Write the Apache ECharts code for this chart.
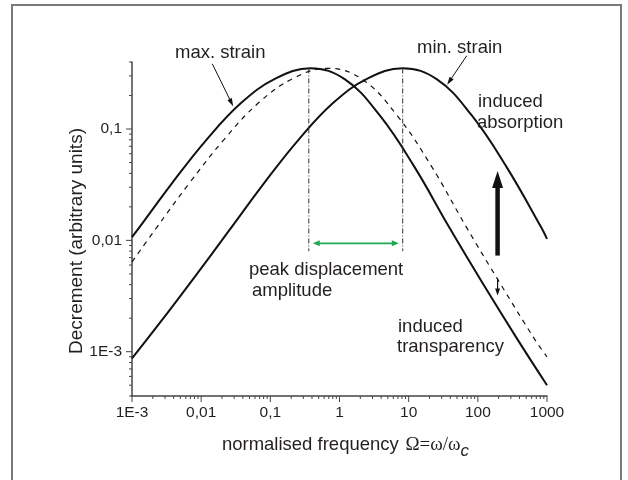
<!DOCTYPE html>
<html>
<head>
<meta charset="utf-8">
<style>html,body{margin:0;padding:0;background:#fff;}#chart{width:628px;height:480px;}</style>
<script src="https://cdn.jsdelivr.net/npm/echarts@6/dist/echarts.min.js"></script>
</head>
<body>
<div id="chart"></div>
<script>
// ---------- data ----------
const maxStrainX = [0.001, 0.0012, 0.0038, 0.012, 0.038, 0.12, 0.38, 1.2, 3.8, 12, 38, 120, 380, 1000];
const maxStrainY = [0.0107, 0.0124, 0.0327, 0.0804, 0.172, 0.285, 0.351, 0.279, 0.133, 0.0462, 0.0133, 0.00403, 0.00127, 0.0005];

const midStrainX = [0.001, 0.00214, 0.00676, 0.0214, 0.0676, 0.214, 0.676, 2.14, 6.76, 21.4, 67.6, 214, 676, 1000];
const midStrainY = [0.0064, 0.0124, 0.0327, 0.0804, 0.172, 0.285, 0.351, 0.279, 0.133, 0.0462, 0.0133, 0.00403, 0.00127, 0.0009];

const minStrainX = [0.001, 0.00257, 0.00813, 0.0257, 0.0813, 0.257, 0.813, 2.57, 8.13, 25.7, 81.3, 257, 813, 1000];
const minStrainY = [0.00087, 0.00184, 0.00473, 0.0124, 0.0327, 0.0804, 0.172, 0.285, 0.351, 0.279, 0.133, 0.0462, 0.0133, 0.0103];

const xTickValues = [0.001, 0.01, 0.1, 1, 10, 100, 1000];
const xTickLabels = ['1E-3', '0,01', '0,1', '1', '10', '100', '1000'];
const yTickValues = [0.001, 0.01, 0.1];
const yTickLabels = ['1E-3', '0,01', '0,1'];
const xMinorTicks = [0.002,0.003,0.004,0.005,0.006,0.007,0.008,0.009,
  0.02,0.03,0.04,0.05,0.06,0.07,0.08,0.09,
  0.2,0.3,0.4,0.5,0.6,0.7,0.8,0.9,
  2,3,4,5,6,7,8,9, 20,30,40,50,60,70,80,90, 200,300,400,500,600,700,800,900];
const yMinorTicks = [0.0004,0.0005,0.0006,0.0007,0.0008,0.0009,
  0.002,0.003,0.004,0.005,0.006,0.007,0.008,0.009,
  0.02,0.03,0.04,0.05,0.06,0.07,0.08,0.09,
  0.2,0.3,0.4];
const xRange = [0.001, 1000];
const yRange = [0.0004, 0.4];

// annotation marks: [x1, y1, x2, y2] in data units
const peakLines = [[0.36, 0.35, 0.36, 0.008], [8.2, 0.35, 8.2, 0.008]];
const displacementArrow = [[0.41, 0.0094, 7.2, 0.0094]];
const absorptionArrow = [[193, 0.0073, 193, 0.042]];
const transparencyArrow = [[193, 0.00455, 193, 0.0032]];
const pointerArrows = [[0.0145, 0.385, 0.029, 0.16], [69, 0.455, 36, 0.25]];

const annotationTexts = ['max. strain', 'min. strain', 'induced', 'absorption', 'peak displacement', 'amplitude', 'induced', 'transparency'];

// ---------- rendering ----------
const INK = '#231f20';
const AXIS = '#444444';
const SANS = 'Liberation Sans, Arial, sans-serif';

function pairs(xs, ys) { return xs.map((x, i) => [x, ys[i]]); }

function labelFor(values, labels) {
  return function (v) {
    for (let i = 0; i < values.length; i++) {
      if (Math.abs(Math.log10(v) - Math.log10(values[i])) < 1e-6) return labels[i];
    }
    return '';
  };
}

function arrowGroup(p1, p2, headLen, headHalf, lw, color, both) {
  const dx = p2[0] - p1[0], dy = p2[1] - p1[1];
  const len = Math.hypot(dx, dy) || 1;
  const ux = dx / len, uy = dy / len, nx = -uy, ny = ux;
  const head = (t, sx, sy) => ({
    type: 'polygon',
    shape: { points: [[t[0], t[1]],
      [t[0] - sx * headLen + nx * headHalf, t[1] - sy * headLen + ny * headHalf],
      [t[0] - sx * headLen - nx * headHalf, t[1] - sy * headLen - ny * headHalf]] },
    style: { fill: color, stroke: null }
  });
  const s = both ? [p1[0] + ux * headLen * 0.8, p1[1] + uy * headLen * 0.8] : p1;
  const e = [p2[0] - ux * headLen * 0.8, p2[1] - uy * headLen * 0.8];
  const children = [{ type: 'line', shape: { x1: s[0], y1: s[1], x2: e[0], y2: e[1] }, style: { stroke: color, lineWidth: lw, fill: null } }, head(p2, ux, uy)];
  if (both) children.push(head(p1, -ux, -uy));
  return { type: 'group', children };
}

function segSeries(data, build) {
  return {
    type: 'custom', silent: true, clip: false, z: 4,
    encode: { x: [0, 2], y: [1, 3] },
    data: data,
    renderItem: function (params, api) {
      const p1 = api.coord([api.value(0), api.value(1)]);
      const p2 = api.coord([api.value(2), api.value(3)]);
      return build(p1, p2);
    }
  };
}

function tickSeries(values, axis, len) {
  return {
    type: 'custom', silent: true, clip: false, z: 5,
    data: values.map(v => axis === 'x' ? [v, yRange[0]] : [xRange[0], v]),
    renderItem: function (params, api) {
      const p = api.coord([api.value(0), api.value(1)]);
      const shape = axis === 'x'
        ? { x1: p[0], y1: p[1], x2: p[0], y2: p[1] + len }
        : { x1: p[0] - len, y1: p[1], x2: p[0], y2: p[1] };
      return { type: 'line', shape: shape, style: { stroke: AXIS, lineWidth: 1 } };
    }
  };
}

const chart = echarts.init(document.getElementById('chart'), null, { renderer: 'canvas' });

const textPos = [[175, 53], [417, 48], [478, 102], [477, 123], [249, 270], [252, 291], [398, 327], [397, 347]];

const option = {
  backgroundColor: '#ffffff',
  animation: false,
  grid: { left: 132, right: 81, top: 62, bottom: 84, containLabel: false, outerBoundsMode: 'none' },
  xAxis: {
    type: 'log', logBase: 10, min: xRange[0], max: xRange[1],
    name: '{t|normalised frequency}  {s|\u03A9=\u03C9/\u03C9}{c|c}',
    nameLocation: 'middle', nameGap: 34,
    nameTextStyle: {
      padding: [0, 0, 0, 12],
      rich: {
        t: { fontFamily: SANS, fontSize: 18.5, color: INK },
        s: { fontFamily: 'Liberation Serif, DejaVu Serif, serif', fontSize: 19, color: INK },
        c: { fontFamily: SANS, fontStyle: 'italic', fontSize: 17, color: INK, verticalAlign: 'bottom', padding: [13, 0, 0, 0] }
      }
    },
    axisLine: { show: true, lineStyle: { color: AXIS, width: 1.5 } },
    axisTick: { show: false },
    minorTick: { show: false },
    splitLine: { show: false },
    axisLabel: { formatter: labelFor(xTickValues, xTickLabels), fontFamily: SANS, fontSize: 15.5, color: INK, margin: 9, showMinLabel: true, showMaxLabel: true }
  },
  yAxis: {
    type: 'log', logBase: 10, min: yRange[0], max: yRange[1],
    name: 'Decrement (arbitrary units)',
    nameLocation: 'middle', nameGap: 46, nameMoveOverlap: false,
    nameTextStyle: { fontFamily: SANS, fontSize: 19, color: INK, padding: [0, 24, 0, 0] },
    axisLine: { show: true, lineStyle: { color: AXIS, width: 1.5 } },
    axisTick: { show: false },
    minorTick: { show: false },
    splitLine: { show: false },
    axisLabel: { formatter: labelFor(yTickValues, yTickLabels), fontFamily: SANS, fontSize: 15.5, color: INK, margin: 10, showMinLabel: false, showMaxLabel: false }
  },
  graphic: [
    { type: 'rect', silent: true, z: 100, shape: { x: 12, y: 5, width: 609, height: 520 }, style: { fill: null, stroke: '#7a7a7a', lineWidth: 2 } }
  ].concat(annotationTexts.map((t, i) => ({
    type: 'text', silent: true, z: 100,
    style: { x: textPos[i][0], y: textPos[i][1], text: t, font: '18.5px ' + SANS, fill: INK, textAlign: 'left', textVerticalAlign: 'middle' }
  }))),
  series: [
    { name: 'max. strain', type: 'line', data: pairs(maxStrainX, maxStrainY), smooth: 0.4, showSymbol: false, lineStyle: { color: '#111', width: 2 }, z: 3 },
    { name: 'intermediate', type: 'line', data: pairs(midStrainX, midStrainY), smooth: 0.4, showSymbol: false, lineStyle: { color: '#111', width: 1.2, type: [5, 5] }, z: 3 },
    { name: 'min. strain', type: 'line', data: pairs(minStrainX, minStrainY), smooth: 0.4, showSymbol: false, lineStyle: { color: '#111', width: 2 }, z: 3 },
    tickSeries(xTickValues, 'x', 6),
    tickSeries(xMinorTicks, 'x', 3),
    tickSeries(yTickValues, 'y', 6),
    tickSeries(yMinorTicks, 'y', 3),
    segSeries(peakLines, (p1, p2) => ({ type: 'line', shape: { x1: p1[0], y1: p1[1], x2: p2[0], y2: p2[1] }, style: { stroke: '#333', lineWidth: 1, lineDash: [5, 2, 1, 2] } })),
    segSeries(displacementArrow, (p1, p2) => arrowGroup(p1, p2, 7, 3, 1.6, '#21a853', true)),
    segSeries(absorptionArrow, (p1, p2) => arrowGroup(p1, p2, 17, 5.5, 4.5, '#111', false)),
    segSeries(transparencyArrow, (p1, p2) => arrowGroup(p1, p2, 7, 2.5, 1.2, '#111', false)),
    segSeries(pointerArrows, (p1, p2) => arrowGroup(p1, p2, 8, 2.5, 1, '#111', false))
  ]
};
chart.setOption(option);
</script>
</body>
</html>
